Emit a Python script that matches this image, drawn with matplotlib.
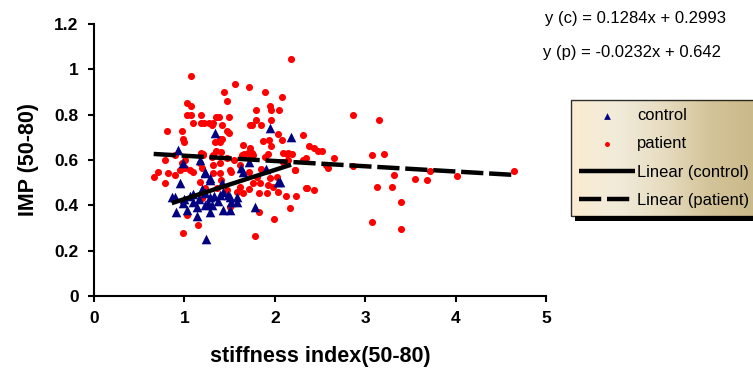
import numpy as np
import matplotlib
matplotlib.use('Agg')
import matplotlib.pyplot as plt
from matplotlib.colors import LinearSegmentedColormap
from matplotlib.patches import Rectangle

plt.rcParams['font.family'] = ['Liberation Sans', 'DejaVu Sans']

# control group (stiffness index, IMP)
control_x = [0.93, 0.99, 0.95, 0.86, 0.90, 0.91, 1.03, 1.10, 1.14, 1.14, 1.23, 1.28, 1.23, 1.28, 1.26,
             1.23, 1.30, 1.28, 1.39, 1.43, 1.50, 1.50, 1.58, 1.63, 1.65, 1.78, 2.04, 1.24, 1.34, 1.95,
             2.18, 2.06, 1.23, 1.28, 1.43, 1.48, 1.58, 1.52, 1.00, 1.06, 1.10, 1.16, 1.20, 1.33, 1.37,
             1.42, 0.98, 1.72, 1.90, 1.17]
control_y = [0.645, 0.585, 0.497, 0.438, 0.438, 0.372, 0.38, 0.416, 0.394, 0.351, 0.548, 0.519, 0.453, 0.438, 0.409,
             0.40, 0.40, 0.372, 0.445, 0.38, 0.38, 0.438, 0.416, 0.563, 0.548, 0.394, 0.504, 0.25, 0.72, 0.74,
             0.70, 0.504, 0.541, 0.512, 0.46, 0.445, 0.438, 0.416, 0.43, 0.44, 0.45, 0.43, 0.47, 0.44, 0.42,
             0.50, 0.41, 0.59, 0.56, 0.60]

# patient group
patient_x = [2.18, 1.07, 1.56, 1.71, 1.44, 1.89, 2.08, 1.47, 1.03, 1.07, 1.95, 1.79, 1.96, 2.05, 1.03,
             1.07, 1.18, 1.35, 1.38, 1.49, 1.79, 1.96, 1.09, 1.18, 1.22, 1.27, 1.32, 1.30, 1.42, 1.73,
             1.75, 1.85, 0.81, 0.97, 1.47, 1.49, 2.03, 2.31, 0.99, 1.39, 1.42, 1.87, 1.94, 2.08, 1.34,
             1.39, 2.38, 2.43, 2.52, 1.65, 1.73, 1.96, 1.35, 1.75, 1.92, 2.13, 2.19, 1.66, 1.73, 1.21,
             1.18,
             2.87, 3.15, 2.35, 2.66, 3.08, 3.21, 2.09, 2.15, 2.22, 2.59, 2.87, 3.32, 3.55, 3.68, 3.72,
             4.01, 4.65, 3.13, 3.30, 2.36, 2.43, 2.12, 2.24, 2.17, 3.40, 3.08, 3.40,
             1.21, 1.32, 1.41, 1.47, 1.64, 1.70, 1.76, 1.89, 2.09, 2.15, 2.31, 2.48, 0.95, 0.99, 0.71,
             0.82, 0.90, 0.66, 0.79, 1.10, 1.19, 1.17, 1.32, 1.39, 1.50, 1.23, 1.19, 1.36, 1.47, 1.58,
             1.65, 1.61, 1.71, 1.80, 1.84, 1.82, 1.91, 1.98, 1.82, 1.50, 1.03, 1.15, 0.99, 1.99, 1.78,
             2.22, 2.35, 1.95, 2.02, 2.57,
             1.01, 1.06, 1.30, 1.32, 1.17, 0.97, 1.01, 1.39, 1.52, 1.76, 1.71, 1.93, 2.03, 1.85, 1.62,
             1.55, 1.40, 1.00, 0.90, 0.78]
patient_y = [1.045, 0.97, 0.935, 0.92, 0.90, 0.90, 0.88, 0.86, 0.85, 0.84, 0.84, 0.82, 0.82, 0.82, 0.80,
             0.80, 0.80, 0.79, 0.79, 0.79, 0.776, 0.776, 0.763, 0.763, 0.763, 0.763, 0.763, 0.755, 0.755, 0.755,
             0.755, 0.755, 0.73, 0.73, 0.73, 0.72, 0.715, 0.71, 0.694, 0.694, 0.694, 0.685, 0.69, 0.69, 0.68,
             0.68, 0.66, 0.655, 0.64, 0.667, 0.653, 0.66, 0.64, 0.63, 0.625, 0.625, 0.625, 0.626, 0.62, 0.626,
             0.63,
             0.80, 0.776, 0.607, 0.607, 0.62, 0.626, 0.59, 0.60, 0.557, 0.563, 0.573, 0.535, 0.516, 0.51, 0.553,
             0.53, 0.551, 0.483, 0.483, 0.476, 0.469, 0.44, 0.44, 0.387, 0.413, 0.325, 0.297,
             0.62, 0.62, 0.635, 0.61, 0.62, 0.63, 0.62, 0.615, 0.63, 0.63, 0.60, 0.64, 0.556, 0.563, 0.548,
             0.541, 0.534, 0.527, 0.497, 0.548, 0.563, 0.504, 0.541, 0.541, 0.556, 0.475, 0.431, 0.475, 0.468, 0.46,
             0.453, 0.482, 0.548, 0.527, 0.497, 0.453, 0.453, 0.482, 0.372, 0.394, 0.357, 0.313, 0.28, 0.338, 0.265,
             0.556, 0.475, 0.519, 0.527, 0.578,
             0.563, 0.556, 0.615, 0.578, 0.585, 0.585, 0.60, 0.585, 0.548, 0.50, 0.47, 0.49, 0.46, 0.56, 0.58,
             0.60, 0.51, 0.68, 0.62, 0.60]

# trendline coefficients as printed on the chart
slope_c, icpt_c = 0.1284, 0.2993
slope_p, icpt_p = -0.0232, 0.642

fig = plt.figure(figsize=(7.53, 3.78), dpi=100)
ax = fig.add_axes([94/753, 1-296/378, 452/753, 272/378])

ax.scatter(patient_x, patient_y, s=26, c='#ff0000', marker='o', linewidths=0, label='patient', zorder=2)
ax.scatter(control_x, control_y, s=48, c='#000080', marker='^', linewidths=0, label='control', zorder=3)

xc = np.array([min(control_x), max(control_x)])
xp = np.array([min(patient_x), max(patient_x)])
ax.plot(xc, slope_c*xc + icpt_c, color='black', lw=3.2, solid_capstyle='butt', label='Linear (control)', zorder=4)
ax.plot(xp, slope_p*xp + icpt_p, color='black', lw=3.2, linestyle=(0, (5, 1.3)), dash_capstyle='butt',
        label='Linear (patient)', zorder=4)

ax.set_xlim(0, 5)
ax.set_ylim(0, 1.2)
ax.set_xticks([0, 1, 2, 3, 4, 5])
ax.set_yticks([0, 0.2, 0.4, 0.6, 0.8, 1.0, 1.2])
ax.set_yticklabels(['0', '0.2', '0.4', '0.6', '0.8', '1', '1.2'])
for s in ['top', 'right']:
    ax.spines[s].set_visible(False)
for s in ['left', 'bottom']:
    ax.spines[s].set_linewidth(1.5)
ax.tick_params(direction='out', length=4, width=1.5, labelsize=12.5, pad=7)
for lab in ax.get_xticklabels() + ax.get_yticklabels():
    lab.set_fontweight('bold')

ax.set_xlabel('stiffness index(50-80)', fontsize=15.5, fontweight='bold', labelpad=14)
ax.set_ylabel('IMP (50-80)', fontsize=15.5, fontweight='bold', labelpad=11)

fig.text(545/753, 1-19/378, 'y (c) = 0.1284x + 0.2993', fontsize=12, va='center', ha='left')
fig.text(543/753, 1-53/378, 'y (p) = -0.0232x + 0.642', fontsize=12, va='center', ha='left')

h, l = ax.get_legend_handles_labels()
order = [1, 0, 2, 3]
leg = fig.legend([h[i] for i in order], [l[i] for i in order], loc='upper left',
                 bbox_to_anchor=(571/753, 1-100/378), fontsize=11.9, frameon=True, fancybox=False,
                 facecolor='none', edgecolor='black',
                 handlelength=3.4, handletextpad=0.1, borderpad=0.5, labelspacing=0.8, markerscale=0.7,
                 borderaxespad=0)
leg.get_frame().set_linewidth(1)

# gradient fill and drop shadow behind the legend box
fig.canvas.draw()
bb = leg.get_window_extent().transformed(fig.transFigure.inverted())
dx, dy = 4/753, 5/378
fig.patches.append(Rectangle((bb.x0 + dx, bb.y0 - dy), bb.width, bb.height, transform=fig.transFigure,
                             facecolor='black', edgecolor='none', zorder=0.8))
gax = fig.add_axes([bb.x0, bb.y0, bb.width, bb.height], zorder=1)
cmap = LinearSegmentedColormap.from_list('tan', ['#fcecd2', '#f1ebda', '#e6dcc0', '#d3c398', '#c9b888'])
gax.imshow(np.linspace(0, 1, 256)[None, :], cmap=cmap, aspect='auto', extent=[0, 1, 0, 1])
gax.axis('off')

fig.savefig('out.png', dpi=100)
